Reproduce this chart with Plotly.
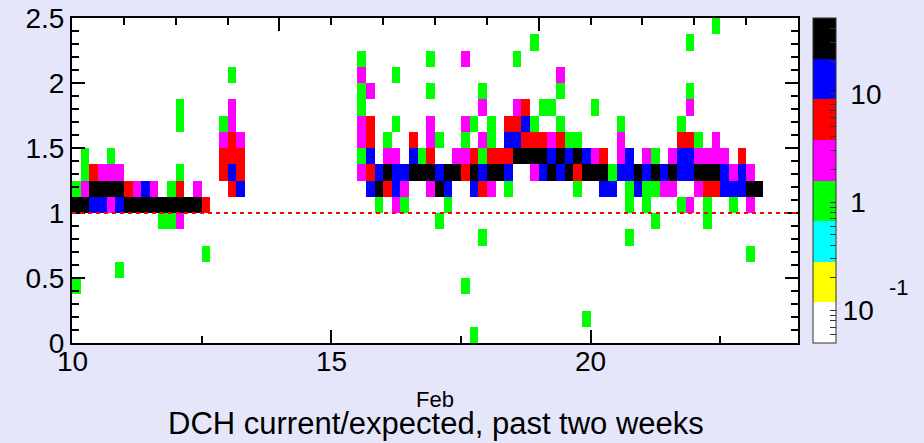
import math
import plotly.graph_objects as go

# ---- data ----
DAY_START = 10          # Feb 10
BIN_DAYS = 1 / 6        # 4-hour bins
N_BINS_X = 84           # two weeks
RATIO_BIN = 0.125       # current/expected bin size
N_BINS_Y = 20           # 0 .. 2.5

# counts represented by each colour level
LEVEL_COUNTS = {"g": 1, "m": 2, "r": 5, "b": 12, "k": 30}

# column index -> "<level><row>" cells (row 0 = ratio 0..0.125)
COL_CELLS = {
    0: "g3 k8 g9",
    1: "k8 m9 g10 g11",
    2: "b8 k9 r10",
    3: "b8 k9 m10",
    4: "m8 k9 m10 g11",
    5: "g4 b8 k9 m10",
    6: "k8 r9",
    7: "k8 m9",
    8: "k8 b9",
    9: "k8 m9",
    10: "g7 k8",
    11: "g7 k8 g9",
    12: "m7 k8 r9 g10 g13 g14",
    13: "k8",
    14: "k8 m9",
    15: "g5 r8",
    17: "r10 r11 m12 g13",
    18: "r9 b10 r11 r12 m13 m14 g16",
    19: "b9 r10 r11 m12",
    33: "m10 g11 m12 m13 g14 g15 m16 g17",
    34: "b9 r10 b11 r12 r13 m15",
    35: "g8 k9 b10",
    36: "r9 k10 m11 g12",
    37: "m8 b9 b10 m11 g13 g16",
    38: "g8 m9 b10",
    39: "k10 b11 r12",
    40: "k10 g11",
    41: "m9 k10 r11 m12 m13 g15 g17",
    42: "g7 k9 b10 g12",
    43: "g8 b9 k10",
    44: "k10 m11",
    45: "g3 r10 m11 g12 m13 m17",
    46: "g0 b9 k10 r11 g13",
    47: "g6 r9 b10 g11 m12 m14 g15",
    48: "m9 k10 r11 g12 g13",
    49: "k10 r11",
    50: "g9 b10 r11 b12 r13",
    51: "k11 b12 r13 m14 g17",
    52: "k11 r12 b13 r14",
    53: "m10 k11 r12 g13 g18",
    54: "b10 k11 r12 g14",
    55: "k10 b11 m12 g14",
    56: "b10 k11 r12 g13 g15 m16",
    57: "k10 b11 g12",
    58: "g9 r10 k11 g12",
    59: "g1 k10 b11",
    60: "k10 m11 g14",
    61: "b9 k10 r11",
    62: "b9 g10",
    63: "b10 m11 m12 g13",
    64: "g6 g8 g9 b10 b11",
    65: "b9 k10",
    66: "g8 g9 b10 m11",
    67: "g7 g9 k10 g11",
    68: "m9 b10",
    69: "m9 k10 m11",
    70: "g8 b10 b11 r12 g13",
    71: "m8 b10 b11 r12 m14 g15 g18",
    72: "m9 k10 m11 g12",
    73: "g7 g8 r9 k10 m11",
    74: "r9 k10 m11 m12 g19",
    75: "b9 b10 m11",
    76: "g8 b9 m10",
    77: "b9 b10 r11",
    78: "g5 m8 k9 m10",
    79: "k9",
}

Z_MIN_COUNT = 0.05
Z_MAX_COUNT = 50
BAND_COLORS = ["#ffffff", "#ffff00", "#00ffff", "#00ff00",
               "#ff00ff", "#ff0000", "#0000ff", "#000000"]
X_TICKS = [10, 15, 20]
X_TICK_LABELS = ["10", "15", "20"]
Y_RANGE = [0, 2.5]
EXPECTED_RATIO = 1.0
TITLE = "DCH current/expected, past two weeks"
MONTH = "Feb"

# ---- build the histogram ----
z = [[None] * N_BINS_X for _ in range(N_BINS_Y)]
for col, spec in COL_CELLS.items():
    for tok in spec.split():
        z[int(tok[1:])][col] = math.log10(LEVEL_COUNTS[tok[0]])

colorscale = []
nb = len(BAND_COLORS)
for k, c in enumerate(BAND_COLORS):
    colorscale.append([k / nb, c])
    colorscale.append([(k + 1) / nb, c])

cb_vals = [0.06, 0.07, 0.08, 0.09, 0.1, 0.2, 0.3, 0.4, 0.5, 0.6, 0.7, 0.8, 0.9,
           1, 2, 3, 4, 5, 6, 7, 8, 9, 10, 20, 30, 40]
cb_text = {0.1: "10", 1: " 1", 10: " 10"}

FONT = "Liberation Sans, Arial, Helvetica, sans-serif"
BG = "#e6e6fa"

# plot-area geometry (pixels) used to place free text
L, R, T, B, W, H = 72, 126, 18, 100, 924, 443
PW, PH = W - L - R, H - T - B


def px_x(px):
    return (px - L) / PW


def px_y(py):
    return (H - B - py) / PH


fig = go.Figure()
fig.add_trace(go.Heatmap(
    z=z,
    x0=DAY_START + BIN_DAYS / 2, dx=BIN_DAYS,
    y0=RATIO_BIN / 2, dy=RATIO_BIN,
    zmin=math.log10(Z_MIN_COUNT), zmax=math.log10(Z_MAX_COUNT),
    colorscale=colorscale,
    hoverinfo="skip",
    colorbar=dict(
        x=px_x(813), xanchor="left", xref="paper",
        y=0.5, yanchor="middle", len=1, lenmode="fraction",
        thickness=23, thicknessmode="pixels",
        xpad=0, ypad=0,
        outlinewidth=1, outlinecolor="#333333",
        tickmode="array",
        tickvals=[math.log10(v) for v in cb_vals],
        ticktext=[cb_text.get(v, "") for v in cb_vals],
        ticks="inside", ticklen=6, tickcolor="#333333", tickwidth=1,
        tickfont=dict(family=FONT, size=28, color="black"),
    ),
))
# empty trace to carry the top axis
fig.add_trace(go.Scatter(x=[DAY_START], y=[None], xaxis="x2", yaxis="y",
                         mode="markers", showlegend=False, hoverinfo="skip"))

fig.add_shape(type="line", xref="x", yref="y",
              x0=DAY_START, x1=DAY_START + N_BINS_X * BIN_DAYS,
              y0=EXPECTED_RATIO, y1=EXPECTED_RATIO,
              line=dict(color="#ff0000", width=2, dash="4px,4px"),
              layer="above")

annotations = [
    dict(text=lab, xref="x", yref="paper", x=v, y=px_y(361),
         xanchor="center", yanchor="middle", showarrow=False,
         font=dict(family=FONT, size=28))
    for v, lab in zip(X_TICKS, X_TICK_LABELS)
]
annotations += [
    dict(text=MONTH, xref="paper", yref="paper",
         x=px_x(435), y=px_y(399),
         xanchor="center", yanchor="middle", showarrow=False,
         font=dict(family=FONT, size=22)),
    dict(text=TITLE, xref="paper", yref="paper",
         x=px_x(436), y=px_y(423),
         xanchor="center", yanchor="middle", showarrow=False,
         font=dict(family=FONT, size=31)),
    dict(text="-1", xref="paper", yref="paper",
         x=px_x(899), y=px_y(287),
         xanchor="center", yanchor="middle", showarrow=False,
         font=dict(family=FONT, size=22)),
]

fig.update_layout(
    width=W, height=H,
    margin=dict(l=L, r=R, t=T, b=B, autoexpand=False),
    paper_bgcolor=BG,
    plot_bgcolor="#ffffff",
    showlegend=False,
    font=dict(family=FONT, color="black"),
    xaxis=dict(
        range=[DAY_START, DAY_START + N_BINS_X * BIN_DAYS],
        tickmode="array", tickvals=X_TICKS, automargin=False,
        showticklabels=False,
        ticks="inside", ticklen=13, tickwidth=1.5, tickcolor="black",
        minor=dict(tick0=DAY_START, dtick=2.5, ticks="inside", ticklen=7,
                   tickwidth=1.5, tickcolor="black"),
        showline=True, linecolor="black", linewidth=2, mirror=False,
        showgrid=False, zeroline=False,
    ),
    xaxis2=dict(
        range=[DAY_START, DAY_START + N_BINS_X * BIN_DAYS],
        overlaying="x", side="top", anchor="y", automargin=False,
        tickmode="array", tickvals=[14, 19, 24],
        ticks="inside", ticklen=13, tickwidth=1.5, tickcolor="black",
        minor=dict(tick0=DAY_START, dtick=1, ticks="inside", ticklen=7,
                   tickwidth=1.5, tickcolor="black"),
        showticklabels=False,
        showline=True, linecolor="black", linewidth=2,
        showgrid=False, zeroline=False,
    ),
    yaxis=dict(
        range=Y_RANGE, tick0=0, dtick=0.5, automargin=False,
        ticks="inside", ticklen=13, tickwidth=1.5, tickcolor="black",
        minor=dict(tick0=0, dtick=0.1, ticks="inside", ticklen=7,
                   tickwidth=1.5, tickcolor="black"),
        showline=True, linecolor="black", linewidth=2, mirror="ticks",
        showgrid=False, zeroline=False,
        tickfont=dict(family=FONT, size=28),
    ),
    annotations=annotations,
)

fig.write_html(
    "out.html",
    config={"displayModeBar": False},
    post_script="document.body.style.margin='0';"
                "document.body.style.background='%s';" % BG,
)
